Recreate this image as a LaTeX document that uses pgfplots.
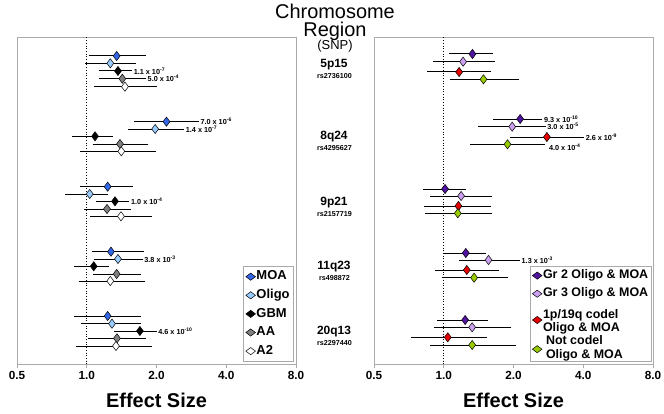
\documentclass[border=0pt]{standalone}
\usepackage{fontspec}
\setmainfont{Liberation Sans}
\usepackage{pgfplots}
\usepackage{pgfplotstable}
\pgfplotsset{compat=1.18}

\definecolor{moa}{RGB}{51,102,230}
\definecolor{oligo}{RGB}{153,204,255}
\definecolor{aa}{RGB}{128,128,128}
\definecolor{grtwo}{RGB}{80,20,160}
\definecolor{grthree}{RGB}{204,160,240}
\definecolor{codel}{RGB}{228,0,0}
\definecolor{notcodel}{RGB}{153,204,0}
\definecolor{frame}{RGB}{170,170,170}

\newcommand\fs[1]{\fontsize{#1}{#1}\selectfont}
\newsavebox\codelbox
\newsavebox\notcodelbox
\sbox\codelbox{\fs{12.5}\bfseries\begin{tabular}{@{}l@{}}1p/19q codel\\Oligo \& MOA\end{tabular}}
\sbox\notcodelbox{\fs{12.5}\bfseries\renewcommand\arraystretch{1.15}\begin{tabular}{@{\hspace{3bp}}l@{}}Not codel\\Oligo \& MOA\end{tabular}}

% columns: c = effect size, lo/hi = interval, y = row position (px from top)
\pgfplotstableread{
c lo hi y
1.346 1.047 1.758 56
2.208 1.646 2.972 121.7
1.231 0.958 1.546 186.7
1.272 1.082 1.724 251.7
1.231 0.903 1.673 316
}\tMOA
\pgfplotstableread{
c lo hi y
1.264 1.010 1.593 63.3
1.974 1.536 2.570 129
1.030 0.826 1.207 194
1.364 1.104 1.701 259
1.285 0.971 1.673 323.7
}\tOLIGO
\pgfplotstableread{
c lo hi y
1.364 1.153 1.531 71
1.086 0.888 1.264 136.3
1.324 1.126 1.491 201.3
1.072 0.906 1.215 266.3
1.696 1.342 1.954 331
}\tGBM
\pgfplotstableread{
c lo hi y
1.424 1.156 1.758 78.7
1.391 1.086 1.800 144
1.223 1.000 1.511 209
1.346 1.090 1.673 274
1.350 1.037 1.758 338.3
}\tAA
\pgfplotstableread{
c lo hi y
1.462 1.100 1.967 86.7
1.410 0.961 1.942 151.3
1.405 1.058 1.866 216.3
1.264 0.945 1.735 281
1.337 0.918 1.860 346
}\tAtwo
\pgfplotstableread{
c lo hi y
1.330 1.083 1.596 54
2.137 1.677 2.600 119
1.013 0.831 1.212 189
1.245 1.013 1.484 253
1.237 0.961 1.519 320
}\tGRtwo
\pgfplotstableread{
c lo hi y
1.212 0.920 1.618 61.7
1.974 1.440 2.687 126.7
1.188 0.896 1.575 196
1.560 1.196 2.081 260
1.326 0.927 1.909 327.3
}\tGRthree
\pgfplotstableread{
c lo hi y
1.165 0.867 1.565 72
2.787 1.987 3.934 137
1.157 0.841 1.565 206
1.257 0.939 1.694 270
1.041 0.742 1.499 337.3
}\tCODEL
\pgfplotstableread{
c lo hi y
1.484 1.090 2.061 79.3
1.884 1.335 2.678 144.3
1.150 0.850 1.575 213.3
1.352 1.003 1.847 277.7
1.326 0.896 2.000 345
}\tNOTCODEL

\pgfplotsset{legend image code/.code={%
  \draw[mark repeat=2,mark phase=2,#1,/tikz/every mark/.append style={rotate=90, mark size=4.8bp}]
    plot coordinates {(0bp,0bp)(6bp,0bp)(12bp,0bp)};}}
\pgfplotsset{
  every axis/.append style={
    scale only axis, width=279bp, height=327bp,
    xmin=0.5, xmax=8,
    ymin=37.5, ymax=364.5, y dir=reverse,
    xtick={0.5,1,2,4,8}, xticklabels={0.5,1.0,2.0,4.0,8.0},
    ytick=\empty, xtick pos=lower, tick align=outside,
    major tick length=3bp,
    axis line style={frame, line width=0.8bp},
    every tick/.style={frame, line width=0.8bp},
    xticklabel style={font=\fs{11.8}\bfseries, text=black},
    clip=false,
    legend cell align=left,
  },
}
\tikzset{plab/.style={anchor=west, inner sep=0.5bp, xshift=3.5bp, font=\fs{7.3}\bfseries}}
\newcommand\series[2]{\addplot[only marks, mark=diamond*, mark size=4.6bp,
    mark options={draw=black, fill=#1, line width=0.5bp},
    error bars/.cd, x dir=both, x explicit,
    error bar style={black, line width=1bp},
    error mark options={black, mark size=2.4bp, line width=1bp}]
  table[x=c,y=y,x error plus expr=\thisrow{hi}-\thisrow{c},x error minus expr=\thisrow{c}-\thisrow{lo}]{#2};}

\begin{document}
\begin{tikzpicture}
\useasboundingbox (0,0) rectangle (664bp,414bp);

% ---------------- left panel ----------------
\begin{semilogxaxis}[log basis x=2, at={(17bp,49.5bp)}, anchor=south west,
  legend style={at={(0.992,0.009)}, anchor=south east, draw=frame, fill=white,
    font=\fs{13}\bfseries, row sep=4.1bp, inner xsep=3bp, inner ysep=3bp,
    nodes={inner sep=1bp, text height=9.5bp, text depth=3bp}}]
\addplot[black, dotted, line width=0.7bp, forget plot] coordinates {(1,37.5) (1,364.5)};
\series{moa}{\tMOA}
\addlegendentry{MOA}
\series{oligo}{\tOLIGO}
\addlegendentry{Oligo}
\series{black}{\tGBM}
\addlegendentry{GBM}
\series{aa}{\tAA}
\addlegendentry{AA}
\series{white}{\tAtwo}
\addlegendentry{A2}
\node[plab] at (axis cs:1.531,71) {1.1 x 10\textsuperscript{-7}};
\node[plab] at (axis cs:1.758,78.7) {5.0 x 10\textsuperscript{-4}};
\node[plab] at (axis cs:2.972,121.7) {7.0 x 10\textsuperscript{-6}};
\node[plab] at (axis cs:2.570,129) {1.4 x 10\textsuperscript{-7}};
\node[plab] at (axis cs:1.491,201.3) {1.0 x 10\textsuperscript{-4}};
\node[plab] at (axis cs:1.701,259) {3.8 x 10\textsuperscript{-3}};
\node[plab] at (axis cs:1.954,331) {4.6 x 10\textsuperscript{-10}};
\node[anchor=base, font=\fs{20}\bfseries] at (axis description cs:0.5,0) [yshift=-43bp] {Effect Size};
\end{semilogxaxis}

% ---------------- right panel ----------------
\begin{semilogxaxis}[log basis x=2, at={(374bp,49.5bp)}, anchor=south west,
  legend style={at={(0.996,0.009)}, anchor=south east, draw=frame, fill=white,
    font=\fs{12.5}\bfseries, row sep=3.6bp, inner xsep=2.5bp, inner ysep=2bp,
    nodes={inner sep=1bp, text height=9.5bp, text depth=3bp}}]
\addplot[black, dotted, line width=0.7bp, forget plot] coordinates {(1,37.5) (1,364.5)};
\series{grtwo}{\tGRtwo}
\addlegendentry{Gr 2 Oligo \& MOA}
\series{grthree}{\tGRthree}
\addlegendentry{Gr 3 Oligo \& MOA}
\series{codel}{\tCODEL}
\addlegendentry[text height=19.5bp, text depth=9.4bp]{\usebox\codelbox}
\series{notcodel}{\tNOTCODEL}
\addlegendentry[text height=11.5bp, text depth=6.8bp]{\usebox\notcodelbox}
\node[plab] at (axis cs:2.600,119) {9.3 x 10\textsuperscript{-10}};
\node[plab] at (axis cs:2.687,126.7) {3.0 x 10\textsuperscript{-5}};
\node[plab] at (axis cs:3.934,137) {2.6 x 10\textsuperscript{-9}};
\node[plab, yshift=-2.5bp, xshift=2bp] at (axis cs:2.678,144.3) {4.0 x 10\textsuperscript{-4}};
\node[plab] at (axis cs:2.081,260) {1.3 x 10\textsuperscript{-3}};
\node[anchor=base, font=\fs{20}\bfseries] at (axis description cs:0.5,0) [yshift=-43bp] {Effect Size};
\end{semilogxaxis}

% ---------------- centre labels ----------------
\node[anchor=base, font=\fs{20}] at (335bp,395.7bp) {Chromosome};
\node[anchor=base, font=\fs{20}] at (335bp,377.5bp) {Region};
\node[anchor=base, font=\fs{13}] at (335bp,364.5bp) {(SNP)};
\foreach \nm/\rs/\yb in {5p15/rs2736100/346.7, 8q24/rs4295627/274, 9p21/rs2157719/208.3, 11q23/rs498872/144, 20q13/rs2297440/79}{
  \node[anchor=base, font=\fs{12}\bfseries] at (334bp,\yb bp) {\nm};
  \node[anchor=base, font=\fs{7.2}\bfseries] at (334.5bp,\yb bp-11bp) {\rs};
}
\end{tikzpicture}
\end{document}
